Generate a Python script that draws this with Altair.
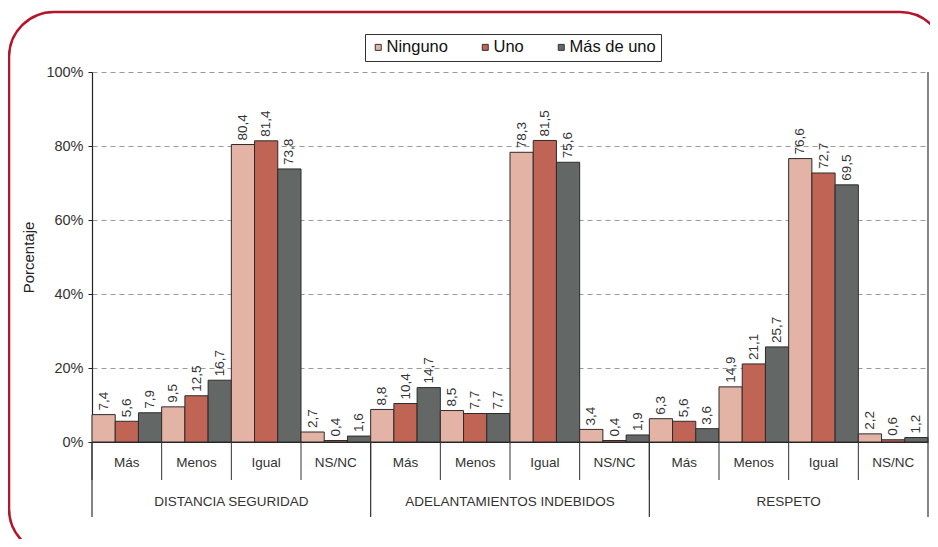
import altair as alt
import pandas as pd

groups = ["DISTANCIA SEGURIDAD", "ADELANTAMIENTOS INDEBIDOS", "RESPETO"]
subcats = ["Más", "Menos", "Igual", "NS/NC"]
series = ["Ninguno", "Uno", "Más de uno"]
colors = ["#e3b4a5", "#c06455", "#636867"]

ninguno = [7.4, 9.5, 80.4, 2.7, 8.8, 8.5, 78.3, 3.4, 6.3, 14.9, 76.6, 2.2]
uno = [5.6, 12.5, 81.4, 0.4, 10.4, 7.7, 81.5, 0.4, 5.6, 21.1, 72.7, 0.6]
mas_de_uno = [7.9, 16.7, 73.8, 1.6, 14.7, 7.7, 75.6, 1.9, 3.6, 25.7, 69.5, 1.2]

y_ticks = [0, 20, 40, 60, 80, 100]

FONT = "Liberation Sans"
TXT = "#333333"
W, H = 836, 370

order = [f"{g}|{s}" for g in groups for s in subcats]
rows = []
for i, key in enumerate(order):
    for sname, vals in zip(series, [ninguno, uno, mas_de_uno]):
        rows.append({"cat": key, "serie": sname, "valor": vals[i]})
df = pd.DataFrame(rows)

xscale = alt.Scale(paddingInner=0, paddingOuter=0)
x_enc = alt.X("cat:N", sort=order, scale=xscale, title=None,
              axis=alt.Axis(labelExpr="split(datum.label, '|')[1]", ticks=False,
                            labelAngle=0, labelPadding=13, labelFontSize=13.5,
                            labelColor=TXT, labelFont=FONT, domainColor="#222222",
                            domainWidth=1.2, grid=False))
xoff = alt.XOffset("serie:N", sort=series, scale=alt.Scale(paddingInner=0, paddingOuter=0))
y_enc = alt.Y("valor:Q", scale=alt.Scale(domain=[0, 100]), title="Porcentaje",
              axis=alt.Axis(values=y_ticks, labelExpr="datum.value + '%'",
                            labelFontSize=14.5, labelColor=TXT, labelFont=FONT,
                            titleFont=FONT, titleFontSize=15, titleFontWeight="normal",
                            titleColor="#222222", titlePadding=9,
                            tickSize=4, tickColor="#222222", labelPadding=5,
                            domainColor="#222222", domainWidth=1.2,
                            grid=True, gridDash=[5, 4], gridColor="#9a9a9a"))

bars = alt.Chart(df).mark_bar(stroke="#2b2b2b", strokeWidth=1).encode(
    x=x_enc, xOffset=xoff, y=y_enc,
    color=alt.Color("serie:N", sort=series,
                    scale=alt.Scale(domain=series, range=colors),
                    legend=alt.Legend(title=None, orient="none", legendX=273, legendY=-38,
                                      direction="horizontal", symbolType="square",
                                      symbolSize=36, symbolStrokeColor="#333333",
                                      symbolStrokeWidth=1,
                                      labelFontSize=16.5,
                                      labelFont=FONT, labelColor="#111111",
                                      labelOffset=0, columnPadding=29, padding=5,
                                      strokeColor="#333333", fillColor="white")),
)

labels = alt.Chart(df).transform_calculate(
    lab="replace(format(datum.valor, '.1f'), '.', ',')"
).mark_text(angle=270, align="left", baseline="middle", dx=4, fontSize=13.5,
            font=FONT, color=TXT).encode(
    x=alt.X("cat:N", sort=order), xOffset=alt.XOffset("serie:N", sort=series),
    y="valor:Q", text="lab:N",
)

sub_df = pd.DataFrame({"cat": order})
sub_rules = alt.Chart(sub_df).mark_rule(color="#333333", strokeWidth=1).encode(
    x=alt.X("cat:N", sort=order, bandPosition=0),
    y=alt.value(H), y2=alt.value(H + 38),
)

grp_df = pd.DataFrame({"cat": [f"{g}|{subcats[0]}" for g in groups]})
grp_rules = alt.Chart(grp_df).mark_rule(color="#333333", strokeWidth=1.2).encode(
    x=alt.X("cat:N", sort=order, bandPosition=0),
    y=alt.value(H), y2=alt.value(H + 75),
)

end_df = pd.DataFrame({"cat": [order[-1]]})
end_rule = alt.Chart(end_df).mark_rule(color="#333333", strokeWidth=1.2).encode(
    x=alt.X("cat:N", sort=order, bandPosition=1),
    y=alt.value(0), y2=alt.value(H + 75),
)

glab_df = pd.DataFrame({"cat": [f"{g}|{subcats[2]}" for g in groups], "grupo": groups})
grp_labels = alt.Chart(glab_df).mark_text(fontSize=13.5, font=FONT, color=TXT,
                                          baseline="middle").encode(
    x=alt.X("cat:N", sort=order, bandPosition=0),
    y=alt.value(H + 60), text="grupo:N",
)

frame = alt.Chart(pd.DataFrame({"k": [0]})).mark_rect(
    fill="white", fillOpacity=0, stroke="#b5152b", strokeWidth=2.5, cornerRadius=45
).encode(x=alt.value(-83), x2=alt.value(853), y=alt.value(-60), y2=alt.value(482))

chart = alt.layer(frame, bars, labels, sub_rules, grp_rules, end_rule, grp_labels).properties(
    width=W, height=H,
    autosize=alt.AutoSizeParams(type="none"),
    padding={"top": 64, "left": 84, "right": 2, "bottom": 97},
).configure_view(stroke=None)

chart.save("out.html", embed_options={"renderer": "svg", "actions": False})
